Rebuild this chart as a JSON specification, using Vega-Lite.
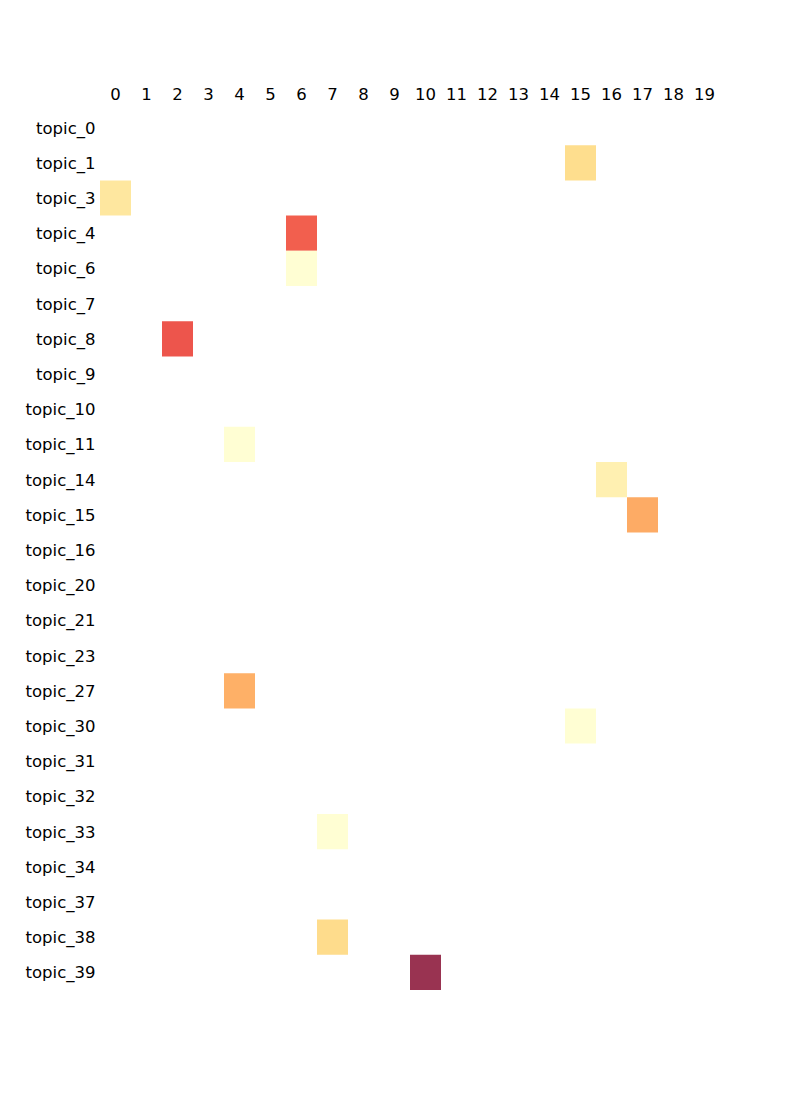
{
  "$schema": "https://vega.github.io/schema/vega-lite/v6.json",
  "width": 620,
  "height": 880,
  "autosize": "none",
  "padding": {"left": 100, "top": 110, "right": 80, "bottom": 110},
  "background": "white",
  "config": {
    "view": {"stroke": null},
    "axis": {
      "labelFont": "DejaVu Sans",
      "labelFontSize": 16.5,
      "labelColor": "#000000",
      "ticks": false,
      "domain": false,
      "grid": false,
      "title": null
    }
  },
  "data": {
    "values": [
      {"topic": "topic_1", "col": 15, "value": 0.26},
      {"topic": "topic_3", "col": 0, "value": 0.2},
      {"topic": "topic_4", "col": 6, "value": 0.69},
      {"topic": "topic_6", "col": 6, "value": 0.01},
      {"topic": "topic_8", "col": 2, "value": 0.72},
      {"topic": "topic_11", "col": 4, "value": 0.01},
      {"topic": "topic_14", "col": 16, "value": 0.13},
      {"topic": "topic_15", "col": 17, "value": 0.47},
      {"topic": "topic_27", "col": 4, "value": 0.45},
      {"topic": "topic_30", "col": 15, "value": 0.01},
      {"topic": "topic_33", "col": 7, "value": 0.01},
      {"topic": "topic_38", "col": 7, "value": 0.27},
      {"topic": "topic_39", "col": 10, "value": 1.0}
    ]
  },
  "mark": {"type": "rect", "opacity": 0.8},
  "encoding": {
    "x": {
      "field": "col",
      "type": "ordinal",
      "scale": {"domain": [0,1,2,3,4,5,6,7,8,9,10,11,12,13,14,15,16,17,18,19], "paddingInner": 0, "paddingOuter": 0},
      "axis": {"orient": "top", "labelAngle": 0, "labelPadding": 8, "title": null}
    },
    "y": {
      "field": "topic",
      "type": "ordinal",
      "scale": {"domain": ["topic_0","topic_1","topic_3","topic_4","topic_6","topic_7","topic_8","topic_9","topic_10","topic_11","topic_14","topic_15","topic_16","topic_20","topic_21","topic_23","topic_27","topic_30","topic_31","topic_32","topic_33","topic_34","topic_37","topic_38","topic_39"], "paddingInner": 0, "paddingOuter": 0},
      "axis": {"labelPadding": 5, "labelOffset": 1, "title": null}
    },
    "color": {
      "field": "value",
      "type": "quantitative",
      "scale": {
        "domain": [0, 0.125, 0.25, 0.375, 0.5, 0.625, 0.75, 0.875, 1],
        "range": ["#ffffcc", "#ffeda0", "#fed976", "#feb24c", "#fd8d3c", "#fc4e2a", "#e31a1c", "#bd0026", "#800026"]
      },
      "legend": null
    }
  }
}
